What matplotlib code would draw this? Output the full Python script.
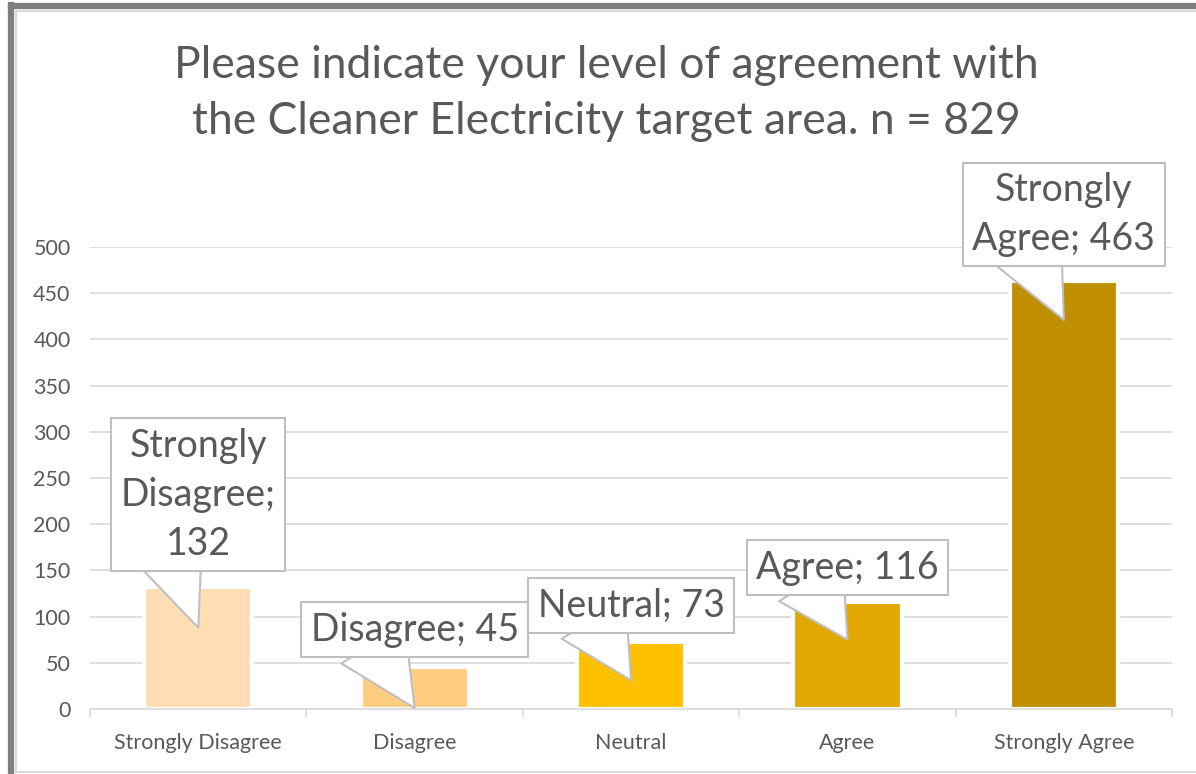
import matplotlib.pyplot as plt
from matplotlib.lines import Line2D

plt.rcParams['font.family'] = ['Lato', 'DejaVu Sans']

categories = ['Strongly Disagree', 'Disagree', 'Neutral', 'Agree', 'Strongly Agree']
counts = [132, 45, 73, 116, 463]
labels = ['Strongly\nDisagree;\n132', 'Disagree; 45', 'Neutral; 73', 'Agree; 116', 'Strongly\nAgree; 463']
colors = ['#FFDEB3', '#FFCD80', '#FFC000', '#E2A700', '#BF8F00']

# callout layout: (x offset of box, box center y, pointer tip y)
callouts = [(0.0, 232, 88), (0.0, 86, 1), (0.0, 112, 31), (0.0, 153, 75), (0.0, 535, 421)]

title = 'Please indicate your level of agreement with\nthe Cleaner Electricity target area. n = 829'
grey = '#595959'

fig = plt.figure(figsize=(11.96, 7.74), dpi=100)
ax = fig.add_axes([0.0753, 0.084, 0.9047, 0.597])

x = range(len(categories))
ax.bar(x, counts, width=0.5, color=colors, edgecolor='white', linewidth=3, zorder=2)

ax.set_xlim(-0.5, 4.5)
ax.set_ylim(0, 500)
ax.set_yticks(range(0, 501, 50))
ax.yaxis.grid(True, color='#d9d9d9', linewidth=1.2, zorder=0)
ax.set_axisbelow(True)
for s in ['top', 'right', 'left']:
    ax.spines[s].set_visible(False)
ax.spines['bottom'].set_color('#d9d9d9')
ax.spines['bottom'].set_linewidth(1.2)
ax.tick_params(axis='y', length=0, labelsize=15.5, labelcolor=grey, pad=14)
ax.set_xticks(list(x))
ax.set_xticklabels(categories)
ax.tick_params(axis='x', which='major', length=0, labelsize=15.5, labelcolor=grey, pad=17)
ax.set_xticks([i - 0.5 for i in range(len(categories) + 1)], minor=True)
ax.tick_params(axis='x', which='minor', length=6, color='#d9d9d9', width=1.2)

for i, (lab, (dx, ty, tip)) in enumerate(zip(labels, callouts)):
    ax.annotate(lab, xy=(i, tip), xytext=(i + dx, ty), ha='center', va='center',
                fontsize=27, color=grey, linespacing=1.45, zorder=5,
                bbox=dict(boxstyle='square,pad=0.25', fc='white', ec='#bfbfbf', lw=1.5),
                arrowprops=dict(arrowstyle='wedge,tail_width=2.0', fc='white', ec='#bfbfbf',
                                lw=1.5, relpos=(0.3, 0.12), shrinkA=0, shrinkB=0, patchA=None),
                annotation_clip=False)

fig.text(0.507, 0.879, title, ha='center', va='center', fontsize=32, color=grey, linespacing=1.45)

# screenshot frame
fig.add_artist(Line2D([0.009, 0.009], [0.0, 0.994], color='#7f7f7f', lw=4.5))
fig.add_artist(Line2D([0.009, 1.0], [0.992, 0.992], color='#7f7f7f', lw=4.5))
fig.add_artist(Line2D([0.013, 1.0], [0.986, 0.986], color='#d9d9d9', lw=1.5))
fig.add_artist(Line2D([0.013, 0.013], [0.003, 0.986], color='#d9d9d9', lw=1.5))
fig.add_artist(Line2D([0.013, 1.0], [0.003, 0.003], color='#d9d9d9', lw=1.5))

fig.savefig('out.png', dpi=100)
